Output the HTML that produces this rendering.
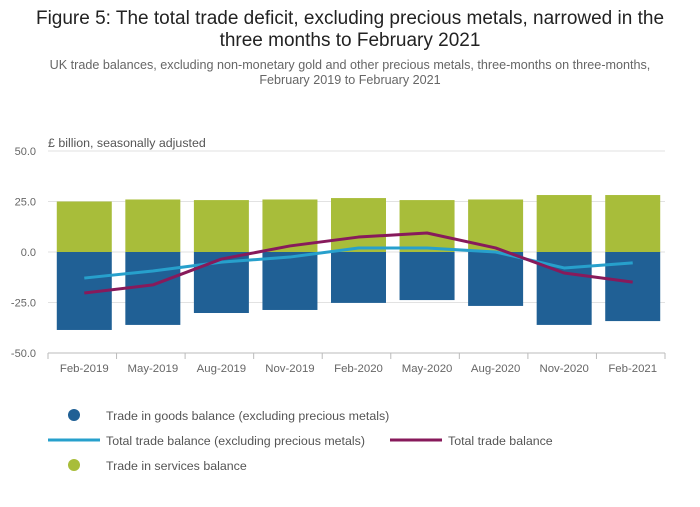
<!DOCTYPE html>
<html><head><meta charset="utf-8"><style>
body{margin:0;background:#fff;font-family:"Liberation Sans",sans-serif;}
svg text{font-family:"Liberation Sans",sans-serif;}
</style></head><body>
<svg id="c" width="700" height="502" xmlns="http://www.w3.org/2000/svg">
<text x="350" y="24" text-anchor="middle" font-size="19" fill="#222">Figure 5: The total trade deficit, excluding precious metals, narrowed in the</text>
<text x="350" y="46" text-anchor="middle" font-size="19" fill="#222">three months to February 2021</text>
<text x="350" y="69" text-anchor="middle" font-size="12.6" fill="#666">UK trade balances, excluding non-monetary gold and other precious metals, three-months on three-months,</text>
<text x="350" y="84" text-anchor="middle" font-size="12.6" fill="#666">February 2019 to February 2021</text>
<text x="48" y="147" font-size="12.4" fill="#555">£ billion, seasonally adjusted</text>
<g id="plot"></g>
<g>
<circle cx="74" cy="415" r="6" fill="#206095"/>
<text x="106" y="420" font-size="12.4" fill="#555">Trade in goods balance (excluding precious metals)</text>
<line x1="48" y1="440" x2="100" y2="440" stroke="#27a0cc" stroke-width="3"/>
<text x="106" y="445" font-size="12.4" fill="#555">Total trade balance (excluding precious metals)</text>
<line x1="390" y1="440" x2="442" y2="440" stroke="#871a5b" stroke-width="3"/>
<text x="448" y="445" font-size="12.4" fill="#555">Total trade balance</text>
<circle cx="74" cy="465" r="6" fill="#a8bd3a"/>
<text x="106" y="470" font-size="12.4" fill="#555">Trade in services balance</text>
</g>
</svg>
<script>
const categories=["Feb-2019","May-2019","Aug-2019","Nov-2019","Feb-2020","May-2020","Aug-2020","Nov-2020","Feb-2021"];
const goods=[-38.6,-36.1,-30.2,-28.7,-25.2,-23.8,-26.7,-36.1,-34.2];
const services=[25,26,25.7,26,26.7,25.7,26,28.2,28.2];
const totalExcl=[-12.9,-9.4,-5,-2.5,2,2,0,-7.9,-5.4];
const total=[-20.3,-16.3,-3.5,3,7.4,9.4,2,-10.4,-14.9];
const yTicks=[50,25,0,-25,-50];
const tickLabels=["50.0","25.0","0.0","-25.0","-50.0"];
const NS="http://www.w3.org/2000/svg";
const g=document.getElementById('plot');
const x0=48,x1=665,yTop=151,yBot=353;
const cw=(x1-x0)/categories.length;
const y=v=>yTop+(50-v)/100*(yBot-yTop);
const xc=i=>x0+2+cw*(i+0.5);
function mk(t,a){const e=document.createElementNS(NS,t);for(const k in a)e.setAttribute(k,a[k]);g.appendChild(e);return e;}
yTicks.forEach((v,i)=>{
 const l=mk('line',{x1:x0,x2:x1,y1:y(v),y2:y(v),stroke:v===-50?'#bbb':'#e2e2e2','stroke-width':1});
 
 
 const t=mk('text',{x:36,y:y(v)+4,'text-anchor':'end','font-size':11,fill:'#666'});t.textContent=tickLabels[i];
 
 
});
const bw=55;
categories.forEach((c,i)=>{
 const s=mk('rect',{x:xc(i)-bw/2,y:y(services[i]),width:bw,height:y(0)-y(services[i]),fill:'#a8bd3a'});
 
 
 const b=mk('rect',{x:xc(i)-bw/2,y:y(0),width:bw,height:y(goods[i])-y(0),fill:'#206095'});
 
 
 const tk=mk('line',{x1:x0+cw*(i+1),x2:x0+cw*(i+1),y1:yBot,y2:yBot+6,stroke:'#bbb'});
 
 
 const t=mk('text',{x:xc(i),y:372,'text-anchor':'middle','font-size':11.4,fill:'#666'});t.textContent=c;
 
 
});
const t0=mk('line',{x1:x0,x2:x0,y1:yBot,y2:yBot+6,stroke:'#bbb'});


function line(arr,col,name){
 const p=mk('polyline',{points:arr.map((v,i)=>xc(i)+','+y(v)).join(' '),fill:'none',stroke:col,'stroke-width':3,'stroke-linejoin':'round'});
 
 
}
line(totalExcl,'#27a0cc','line-total-excl-precious');
line(total,'#871a5b','line-total-trade');
</script>
</body></html>
